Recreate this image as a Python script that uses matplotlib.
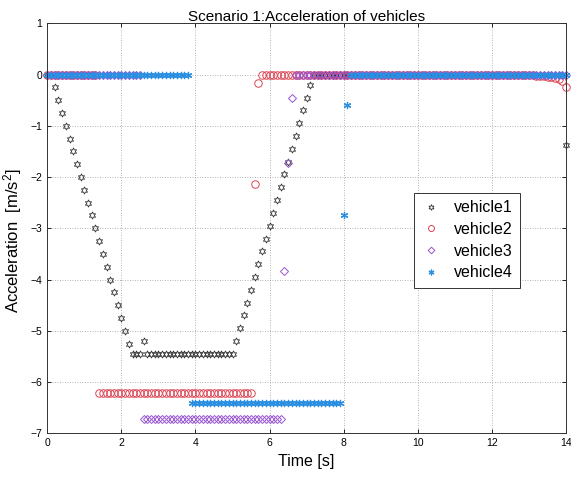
import numpy as np
import matplotlib
matplotlib.use("Agg")
from matplotlib import pyplot as plt
from matplotlib.ticker import MultipleLocator

plt.rcParams['font.family'] = ['Liberation Sans', 'DejaVu Sans']
plt.rcParams['mathtext.fontset'] = 'custom'
plt.rcParams['mathtext.rm'] = 'Liberation Sans'
plt.rcParams['mathtext.it'] = 'Liberation Sans'

# sample times, 0.1 s step
time_s = np.round(np.arange(0, 141) * 0.1, 1)

# vehicle1: braking ramp, plateau, recovery ramp
v1_ramp_down = [-0.25, -0.5, -0.75, -1.0, -1.25, -1.5, -1.75, -2.0, -2.25, -2.5, -2.75,
                -3.0, -3.25, -3.5, -3.75, -4.0, -4.25, -4.5, -4.75, -5.0, -5.25]
v1_ramp_up = [-5.2, -4.95, -4.7, -4.45, -4.2, -3.95, -3.7, -3.45, -3.2, -2.95, -2.7,
              -2.45, -2.2, -1.95, -1.7, -1.45, -1.2, -0.95, -0.7, -0.45, -0.2]
vehicle1 = ([0.0] * 2 + v1_ramp_down + [-5.45] * 3 + [-5.2] + [-5.45] * 24
            + v1_ramp_up + [0.0] * 68 + [-1.37])

# vehicle2
v2_drift = [-0.01, -0.01, -0.02, -0.02, -0.03, -0.04, -0.05, -0.07, -0.09, -0.13]
vehicle2 = ([0.0] * 14 + [-6.22] * 42 + [-2.13, -0.16] + [0.0] * 72
            + v2_drift + [-0.25])

# vehicle3
vehicle3 = [0.0] * 26 + [-6.73] * 38 + [-3.83, -1.72, -0.46] + [0.0] * 74

# vehicle4
vehicle4 = [0.0] * 39 + [-6.41] * 41 + [-2.74, -0.60] + [0.0] * 59

labels = ["vehicle1", "vehicle2", "vehicle3", "vehicle4"]

fig = plt.figure(figsize=(5.71, 4.79), dpi=100)
ax = fig.add_axes([0.0828, 0.0954, 0.9085, 0.856])

ms = 4.6
ax.plot(time_s, vehicle1, linestyle='none', marker=(6, 1, 0), markersize=ms + 0.6,
        markerfacecolor='none', markeredgecolor='#333333', markeredgewidth=0.6,
        clip_on=False, label=labels[0])
ax.plot(time_s, vehicle2, linestyle='none', marker='o', markersize=ms + 0.8,
        markerfacecolor='none', markeredgecolor='#dc4454', markeredgewidth=0.7,
        clip_on=False, label=labels[1])
ax.plot(time_s, vehicle3, linestyle='none', marker='D', markersize=ms - 0.4,
        markerfacecolor='none', markeredgecolor='#9a55d0', markeredgewidth=0.7,
        clip_on=False, label=labels[2])
ax.plot(time_s, vehicle4, linestyle='none', marker=(6, 2, 0), markersize=ms + 0.6,
        markeredgecolor='#2a8fe0', markeredgewidth=0.9,
        clip_on=False, label=labels[3])

ax.set_xlim(0, 14)
ax.set_ylim(-7, 1)
ax.xaxis.set_major_locator(MultipleLocator(2))
ax.yaxis.set_major_locator(MultipleLocator(1))
ax.tick_params(direction='in', top=True, right=True, labelsize=7.5, length=3, width=0.6)
for s in ax.spines.values():
    s.set_linewidth(0.7)
    s.set_color('#333333')
ax.grid(True, linestyle=(0, (1, 2)), color='#999999', linewidth=0.6)

ax.set_title("Scenario 1:Acceleration of vehicles", fontsize=11, pad=2)
ax.set_xlabel("Time [s]", fontsize=11.5)
ax.set_ylabel("Acceleration  [m/s$^2$]", fontsize=12)
ax.yaxis.set_label_coords(-0.045, 0.47)

leg = ax.legend(loc='upper left', bbox_to_anchor=(0.706, 0.586), fontsize=11.5,
                borderaxespad=0, fancybox=False, framealpha=1, edgecolor='#333333',
                markerscale=0.8, borderpad=0.45, labelspacing=0.42,
                handletextpad=0.8, handlelength=1.3)
leg.get_frame().set_linewidth(0.7)

fig.savefig("out.png", dpi=100)
